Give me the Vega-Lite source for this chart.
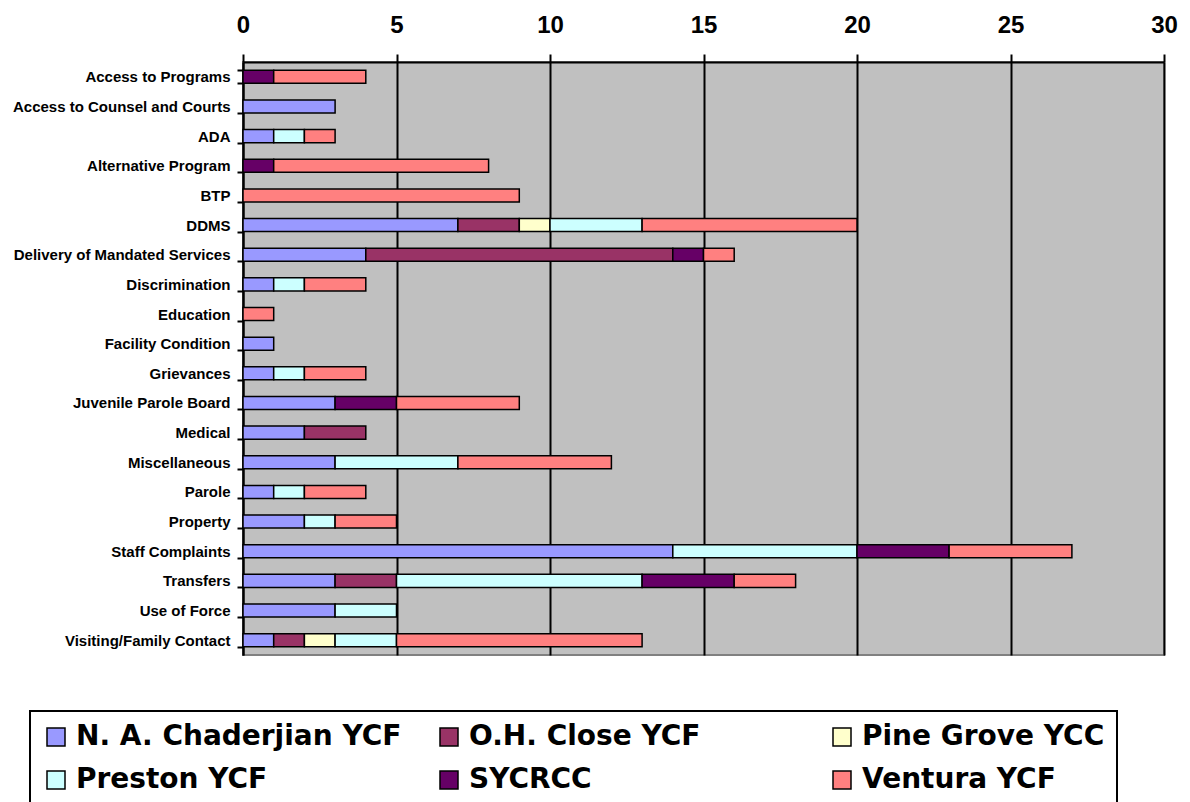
{
  "$schema": "https://vega.github.io/schema/vega-lite/v6.json",
  "width": 921,
  "height": 593,
  "autosize": {"type": "none"},
  "padding": {"left": 243, "top": 62, "right": 26, "bottom": 147},
  "background": "white",
  "config": {
    "view": {"fill": "#C0C0C0", "stroke": "#808080", "strokeWidth": 2},
    "font": "Liberation Sans"
  },
  "data": {
    "values": [
      {"category": "Access to Programs", "site": "SYCRCC", "count": 1},
      {"category": "Access to Programs", "site": "Ventura YCF", "count": 3},
      {"category": "Access to Counsel and Courts", "site": "N. A. Chaderjian YCF", "count": 3},
      {"category": "ADA", "site": "N. A. Chaderjian YCF", "count": 1},
      {"category": "ADA", "site": "Preston YCF", "count": 1},
      {"category": "ADA", "site": "Ventura YCF", "count": 1},
      {"category": "Alternative Program", "site": "SYCRCC", "count": 1},
      {"category": "Alternative Program", "site": "Ventura YCF", "count": 7},
      {"category": "BTP", "site": "Ventura YCF", "count": 9},
      {"category": "DDMS", "site": "N. A. Chaderjian YCF", "count": 7},
      {"category": "DDMS", "site": "O.H. Close YCF", "count": 2},
      {"category": "DDMS", "site": "Pine Grove YCC", "count": 1},
      {"category": "DDMS", "site": "Preston YCF", "count": 3},
      {"category": "DDMS", "site": "Ventura YCF", "count": 7},
      {"category": "Delivery of Mandated Services", "site": "N. A. Chaderjian YCF", "count": 4},
      {"category": "Delivery of Mandated Services", "site": "O.H. Close YCF", "count": 10},
      {"category": "Delivery of Mandated Services", "site": "SYCRCC", "count": 1},
      {"category": "Delivery of Mandated Services", "site": "Ventura YCF", "count": 1},
      {"category": "Discrimination", "site": "N. A. Chaderjian YCF", "count": 1},
      {"category": "Discrimination", "site": "Preston YCF", "count": 1},
      {"category": "Discrimination", "site": "Ventura YCF", "count": 2},
      {"category": "Education", "site": "Ventura YCF", "count": 1},
      {"category": "Facility Condition", "site": "N. A. Chaderjian YCF", "count": 1},
      {"category": "Grievances", "site": "N. A. Chaderjian YCF", "count": 1},
      {"category": "Grievances", "site": "Preston YCF", "count": 1},
      {"category": "Grievances", "site": "Ventura YCF", "count": 2},
      {"category": "Juvenile Parole Board", "site": "N. A. Chaderjian YCF", "count": 3},
      {"category": "Juvenile Parole Board", "site": "SYCRCC", "count": 2},
      {"category": "Juvenile Parole Board", "site": "Ventura YCF", "count": 4},
      {"category": "Medical", "site": "N. A. Chaderjian YCF", "count": 2},
      {"category": "Medical", "site": "O.H. Close YCF", "count": 2},
      {"category": "Miscellaneous", "site": "N. A. Chaderjian YCF", "count": 3},
      {"category": "Miscellaneous", "site": "Preston YCF", "count": 4},
      {"category": "Miscellaneous", "site": "Ventura YCF", "count": 5},
      {"category": "Parole", "site": "N. A. Chaderjian YCF", "count": 1},
      {"category": "Parole", "site": "Preston YCF", "count": 1},
      {"category": "Parole", "site": "Ventura YCF", "count": 2},
      {"category": "Property", "site": "N. A. Chaderjian YCF", "count": 2},
      {"category": "Property", "site": "Preston YCF", "count": 1},
      {"category": "Property", "site": "Ventura YCF", "count": 2},
      {"category": "Staff Complaints", "site": "N. A. Chaderjian YCF", "count": 14},
      {"category": "Staff Complaints", "site": "Preston YCF", "count": 6},
      {"category": "Staff Complaints", "site": "SYCRCC", "count": 3},
      {"category": "Staff Complaints", "site": "Ventura YCF", "count": 4},
      {"category": "Transfers", "site": "N. A. Chaderjian YCF", "count": 3},
      {"category": "Transfers", "site": "O.H. Close YCF", "count": 2},
      {"category": "Transfers", "site": "Preston YCF", "count": 8},
      {"category": "Transfers", "site": "SYCRCC", "count": 3},
      {"category": "Transfers", "site": "Ventura YCF", "count": 2},
      {"category": "Use of Force", "site": "N. A. Chaderjian YCF", "count": 3},
      {"category": "Use of Force", "site": "Preston YCF", "count": 2},
      {"category": "Visiting/Family Contact", "site": "N. A. Chaderjian YCF", "count": 1},
      {"category": "Visiting/Family Contact", "site": "O.H. Close YCF", "count": 1},
      {"category": "Visiting/Family Contact", "site": "Pine Grove YCC", "count": 1},
      {"category": "Visiting/Family Contact", "site": "Preston YCF", "count": 2},
      {"category": "Visiting/Family Contact", "site": "Ventura YCF", "count": 8}
    ]
  },
  "mark": {"type": "bar", "stroke": "black", "strokeWidth": 1.5},
  "encoding": {
    "y": {
      "field": "category",
      "type": "nominal",
      "sort": null,
      "scale": {"paddingInner": 0.56, "paddingOuter": 0.28},
      "axis": {
        "title": null,
        "orient": "left",
        "domain": true,
        "domainColor": "black",
        "domainWidth": 2,
        "ticks": true,
        "tickBand": "extent",
        "tickColor": "black",
        "tickWidth": 2,
        "tickSize": 6,
        "labelPadding": 7,
        "labelFont": "Liberation Sans",
        "labelFontSize": 15,
        "labelFontWeight": "bold",
        "labelColor": "black",
        "labelLimit": 300
      }
    },
    "x": {
      "field": "count",
      "type": "quantitative",
      "stack": "zero",
      "scale": {"domain": [0, 30], "nice": false},
      "axis": {
        "title": null,
        "orient": "top",
        "values": [0, 5, 10, 15, 20, 25, 30],
        "grid": true,
        "gridColor": "black",
        "gridWidth": 2,
        "gridOpacity": 1,
        "domain": true,
        "domainColor": "black",
        "domainWidth": 2,
        "ticks": true,
        "tickColor": "black",
        "tickWidth": 2,
        "tickSize": 8,
        "labelPadding": 17,
        "labelFont": "Liberation Sans",
        "labelFontSize": 24,
        "labelFontWeight": "bold",
        "labelColor": "black",
        "labelFlush": false
      }
    },
    "color": {
      "field": "site",
      "type": "nominal",
      "scale": {
        "domain": ["N. A. Chaderjian YCF", "O.H. Close YCF", "Pine Grove YCC", "Preston YCF", "SYCRCC", "Ventura YCF"],
        "range": ["#9999FF", "#993366", "#FFFFCC", "#CCFFFF", "#660066", "#FF8080"]
      },
      "legend": {
        "title": null,
        "orient": "none",
        "legendX": -213,
        "legendY": 649,
        "direction": "horizontal",
        "columns": 3,
        "gridAlign": "all",
        "columnPadding": 33,
        "rowPadding": 15,
        "padding": 12,
        "strokeColor": "black",
        "fillColor": "white",
        "symbolType": "square",
        "symbolSize": 324,
        "symbolStrokeColor": "black",
        "symbolStrokeWidth": 1.5,
        "symbolOpacity": 1,
        "labelFont": "DejaVu Sans",
        "labelFontSize": 28,
        "labelFontWeight": "bold",
        "labelColor": "black",
        "labelOffset": 6,
        "labelLimit": 500,
        "encode": {"legend": {"update": {"strokeWidth": {"value": 2}}}}
      }
    }
  }
}
